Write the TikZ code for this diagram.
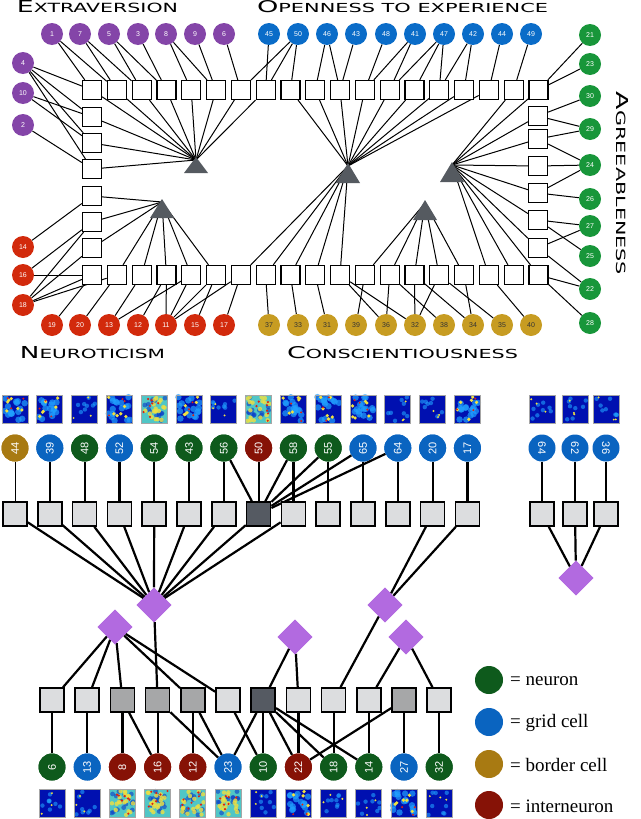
\documentclass[tikz,border=0pt]{standalone}
\usepackage{fontspec}
\usetikzlibrary{shapes.geometric}
\setmainfont{Liberation Serif}
\newfontfamily\tf{DejaVu Sans}
\newfontfamily\lf{Liberation Sans}
\definecolor{cpur}{HTML}{8445A8}
\definecolor{cblu}{HTML}{0A6CC8}
\definecolor{cgrn}{HTML}{18963A}
\definecolor{cred}{HTML}{D22A0C}
\definecolor{cgld}{HTML}{C79C22}
\definecolor{bgld}{HTML}{A87A12}
\definecolor{bblu}{HTML}{0A64C0}
\definecolor{bgrn}{HTML}{0E5A1C}
\definecolor{bred}{HTML}{861206}
\definecolor{trif}{HTML}{555A60}
\definecolor{sql}{HTML}{DCDDDF}
\definecolor{sqm}{HTML}{A6A7A8}
\definecolor{sqd}{HTML}{555A62}
\definecolor{dia}{HTML}{B26AE0}
\definecolor{hmb}{HTML}{0010B0}
\definecolor{hmc}{HTML}{20A0FF}
\definecolor{hmy}{HTML}{F0E040}
\definecolor{hmr}{HTML}{E02010}
\definecolor{hmg}{HTML}{70E0A0}
\newcommand\ttl[3]{\resizebox{#1pt}{#2pt}{\tf\fontsize{13}{13}\selectfont #3}}
\newcommand\hmap[3]{%
 \begin{scope}[shift={(#1,#2)}]
 \ifcase#3
  \fill[hmb] (-13,-14) rectangle (13,14);
  \foreach \k in {1,...,8}{\pgfmathsetmacro\ax{rnd*22-11}\pgfmathsetmacro\ay{rnd*24-12}\fill[hmc,opacity=.6] (\ax,\ay) circle (2.2);}
  \foreach \k in {1,...,3}{\pgfmathsetmacro\ax{rnd*22-11}\pgfmathsetmacro\ay{rnd*24-12}\fill[hmy] (\ax,\ay) circle (1.1);}
 \or
  \fill[hmb] (-13,-14) rectangle (13,14);
  \foreach \k in {1,...,16}{\pgfmathsetmacro\ax{rnd*22-11}\pgfmathsetmacro\ay{rnd*24-12}\fill[hmc,opacity=.7] (\ax,\ay) circle (3.2);}
  \foreach \k in {1,...,6}{\pgfmathsetmacro\ax{rnd*22-11}\pgfmathsetmacro\ay{rnd*24-12}\fill[hmy] (\ax,\ay) circle (1.8);}
  \foreach \k in {1,...,3}{\pgfmathsetmacro\ax{rnd*22-11}\pgfmathsetmacro\ay{rnd*24-12}\fill[hmr] (\ax,\ay) circle (1.1);}
 \or
  \fill[hmg!60!hmc] (-13,-14) rectangle (13,14);
  \foreach \k in {1,...,14}{\pgfmathsetmacro\ax{rnd*22-11}\pgfmathsetmacro\ay{rnd*24-12}\fill[hmb!70!hmc,opacity=.6] (\ax,\ay) circle (2.4);}
  \foreach \k in {1,...,18}{\pgfmathsetmacro\ax{rnd*22-11}\pgfmathsetmacro\ay{rnd*24-12}\fill[hmy,opacity=.8] (\ax,\ay) circle (2.2);}
  \foreach \k in {1,...,7}{\pgfmathsetmacro\ax{rnd*22-11}\pgfmathsetmacro\ay{rnd*24-12}\fill[hmr] (\ax,\ay) circle (1.2);}
 \fi
 \draw[gray!70,line width=0.8pt] (-13,-14) rectangle (13,14);
 \end{scope}}
\begin{document}
\begin{tikzpicture}[x=1pt,y=-1pt,
 sq/.style={draw=black,line width=1.2pt,fill=white,minimum size=19pt,inner sep=0pt},
 tc/.style={circle,minimum size=22pt,inner sep=0pt,font=\lf\fontsize{7}{7}\selectfont,text=white},
 bsq/.style={draw=black,line width=1.6pt,minimum size=24pt,inner sep=0pt},
 bel/.style={circle,minimum size=27pt,inner sep=0pt,font=\lf\fontsize{11}{11}\selectfont,text=white},
 dm/.style={diamond,fill=dia,minimum width=35pt,minimum height=35pt,inner sep=0pt},
 te/.style={line width=1pt},
 be/.style={line width=2.2pt},
 lg/.style={font=\fontsize{19}{19}\selectfont,anchor=west,inner sep=0pt}]
\useasboundingbox (0,0) rectangle (640,819);
\pgfmathsetseed{11}
% ---------- TOP SECTION ----------
\foreach \i in {0,...,18}{
 \node[sq] (T\i) at ({92+24.8*\i},90) {};
 \node[sq] (B\i) at ({92+24.8*\i},275) {};}
\foreach \i/\y in {1/117,2/143,3/169,4/196,5/222,6/248}{\node[sq] (L\i) at (92,\y) {};}
\foreach \i/\y in {1/116,2/139,3/166,4/193,5/220,6/248}{\node[sq] (R\i) at (538,\y) {};}
\foreach \n/\x in {1/52,7/80,5/109,3/138,8/166,9/195,6/224}{\node[tc,fill=cpur] (c\n) at (\x,34) {\n};}
\foreach \n/\x in {45/269,50/298,46/327,43/356,48/386,41/415,47/444,42/473,44/502,49/531}{\node[tc,fill=cblu] (c\n) at (\x,34) {\n};}
\foreach \n/\y in {4/63,10/93,2/125}{\node[tc,fill=cpur] (c\n) at (23,\y) {\n};}
\foreach \n/\y in {14/247,16/275,18/305}{\node[tc,fill=cred] (c\n) at (23,\y) {\n};}
\foreach \n/\x in {19/52,20/80,13/109,12/138,11/166,15/195,17/224}{\node[tc,fill=cred] (c\n) at (\x,325) {\n};}
\foreach \n/\x in {37/269,33/298,31/327,39/356,36/386,32/415,38/444,34/473,35/502,40/531}{\node[tc,fill=cgld,text=black!80] (c\n) at (\x,325) {\n};}
\foreach \n/\y in {21/35,23/64,30/96,29/129,24/165,26/199,27/226,25/256,22/289,28/323}{\node[tc,fill=cgrn] (c\n) at (590,\y) {\n};}
\coordinate (t1) at (196,160);
\coordinate (t2) at (162,202);
\coordinate (t3) at (348,166);
\coordinate (t4) at (452,165);
\coordinate (t5) at (425,203);
\foreach \s in {T0,T1,T2,T3,T4,T5,T6,T7,L1,L2,L3}{\draw[te] (t1) -- (\s);}
\foreach \s in {L4,L5,L6,B1,B2,B3,B4,B5}{\draw[te] (t2) -- (\s);}
\foreach \s in {T8,T9,T10,T11,T12,T13,T14,T15,T16,B6,B7,B8,B9,B10}{\draw[te] (t3) -- (\s);}
\foreach \s in {T17,T18,R1,R2,R3,R4,R5,R6,B16,B17,B18}{\draw[te] (t4) -- (\s);}
\foreach \s in {B11,B12,B13,B14,B15}{\draw[te] (t5) -- (\s);}
\foreach \a/\b in {c1/T0,c1/T1,c7/T1,c7/T2,c5/T2,c5/T3,c3/T3,c8/T4,c8/T5,c9/T5,c6/T6,c4/T0,c4/L1,c4/L2,c4/L3,c10/L1,c10/L2,c2/L3,
 c45/T7,c50/T6,c50/T7,c50/T8,c46/T9,c46/T10,c43/T10,c48/T11,c41/T11,c41/T12,c47/T12,c47/T13,c47/T14,c42/T14,c42/T15,c44/T16,c49/T17,
 c21/T18,c23/T18,c30/R1,c29/R1,c29/R2,c24/R2,c24/R3,c24/R4,c26/R4,c27/R5,c27/R6,c25/R5,c22/R6,c22/B18,c28/B18,
 c14/L4,c16/L5,c16/B0,c18/L5,c18/L6,c18/B0,c18/B1,c19/B0,c20/B1,c13/B2,c13/B4,c12/B3,c11/B3,c11/B4,c11/B5,c11/B6,c15/B5,c17/B6,
 c37/B7,c33/B8,c31/B9,c39/B11,c36/B10,c36/B12,c32/B10,c32/B13,c32/B14,c38/B12,c34/B13,c34/B15,c35/B14,c40/B16}{\draw[te] (\a) -- (\b);}
\foreach \i in {0,...,18}{\node[sq] at (T\i) {};\node[sq] at (B\i) {};}
\foreach \i in {1,...,6}{\node[sq] at (L\i) {};\node[sq] at (R\i) {};}
\fill[trif] (196,157) -- (184,173) -- (208,173) -- cycle;
\fill[trif] (162,199) -- (150,218) -- (174,218) -- cycle;
\fill[trif] (348,163) -- (336,183) -- (360,183) -- cycle;
\fill[trif] (452,162) -- (440,182) -- (464,182) -- cycle;
\fill[trif] (425,200) -- (413,220) -- (437,220) -- cycle;
\node[inner sep=0pt] (tE) at (97.5,6.5) {\ttl{161}{12}{E{\fontsize{10}{10}\selectfont XTRAVERSION}}};
\node[inner sep=0pt] (tO) at (402.5,6.5) {\ttl{291}{12}{O{\fontsize{10}{10}\selectfont PENNESS TO EXPERIENCE}}};
\node[inner sep=0pt] (tN) at (92.5,353) {\ttl{145}{12}{N{\fontsize{10}{10}\selectfont EUROTICISM}}};
\node[inner sep=0pt] (tC) at (402.5,353) {\ttl{231}{12}{C{\fontsize{10}{10}\selectfont ONSCIENTIOUSNESS}}};
\node[inner sep=0pt,rotate=-90] (tA) at (622,183.5) {\ttl{183}{12}{A{\fontsize{10}{10}\selectfont GREEABLENESS}}};
% ---------- BOTTOM SECTION ----------
\foreach \i/\n/\c/\h in {0/44/bgld/1,1/39/bblu/1,2/48/bgrn/0,3/52/bblu/1,4/54/bgrn/2,5/43/bgrn/1,6/56/bgrn/0,7/50/bred/2,8/58/bgrn/1,9/55/bgrn/1,10/65/bblu/1,11/64/bblu/0,12/20/bblu/0,13/17/bblu/1}{
 \pgfmathsetmacro\xx{15+34.8*\i}
 \hmap{\xx}{409}{\h}
 \node[bel,fill=\c] (u\i) at (\xx,448) {\rotatebox{90}{\n}};
 \node[bsq,fill=sql] (s\i) at (\xx,514) {};}
\foreach \i/\n/\x in {0/64/542,1/62/575,2/36/606}{
 \hmap{\x}{409}{0}
 \node[bel,fill=bblu] (v\i) at (\x,448) {\rotatebox{-90}{\n}};
 \node[bsq,fill=sql] (r\i) at (\x,514) {};}
\foreach \i/\n/\c/\h/\f in {1/6/bgrn/0/sql,2/13/bblu/0/sql,3/8/bred/2/sqm,4/16/bred/2/sqm,5/12/bred/2/sqm,6/23/bblu/2/sql,7/10/bgrn/0/sqd,8/22/bred/1/sql,9/18/bgrn/0/sql,10/14/bgrn/0/sql,11/27/bblu/1/sqm,12/32/bgrn/0/sql}{
 \pgfmathsetmacro\xx{52+35.2*(\i-1)}
 \hmap{\xx}{803}{\h}
 \node[bel,fill=\c] (w\i) at (\xx,767) {\rotatebox{90}{\n}};
 \node[bsq,fill=\f] (q\i) at (\xx,700) {};}
\node[dm] (D1) at (154,605) {};
\node[dm] (D2) at (385,605) {};
\node[dm] (D3) at (576,578) {};
\node[dm] (Da) at (115,627) {};
\node[dm] (Dc) at (295,637) {};
\node[dm] (Dd) at (406,637) {};
\draw[line width=1pt] (u0) -- (s0);
\foreach \i in {1,...,13}{\draw[be] (u\i) -- (s\i);}
\foreach \i in {0,1,2}{\draw[be] (v\i) -- (r\i); \draw[be] (r\i) -- (D3);}
\foreach \i in {6,8,9,10,11}{\draw[be] (u\i) -- (s7);}
\foreach \i in {0,...,8}{\draw[be] (s\i) -- (D1);}
\foreach \i in {12,13}{\draw[be] (s\i) -- (D2);}
\foreach \a/\b in {Da/q1,Da/q2,Da/q3,Da/q5,Da/q6,D1/q4,Dc/q7,Dc/q8,D2/q9,Dd/q10,Dd/q12}{\draw[be] (\a) -- (\b);}
\foreach \a/\b in {q1/w1,q2/w2,q3/w3,q3/w4,q4/w4,q4/w6,q5/w5,q5/w6,q6/w7,q7/w6,q7/w7,q7/w8,q7/w9,q7/w10,q8/w8,q9/w9,q10/w10,q11/w8,q11/w11,q12/w12}{\draw[be] (\a) -- (\b);}
\foreach \i in {0,...,13}{\node[bsq,fill=sql] at (s\i) {};}
\node[bsq,fill=sqd] at (s7) {};
\foreach \i in {0,1,2}{\node[bsq,fill=sql] at (r\i) {};}
\foreach \i/\f in {1/sql,2/sql,3/sqm,4/sqm,5/sqm,6/sql,7/sqd,8/sql,9/sql,10/sql,11/sqm,12/sql}{\node[bsq,fill=\f] at (q\i) {};}
\foreach \d in {D1,D2,D3,Da,Dc,Dd}{\node[dm] at (\d) {};}
\foreach \i/\n/\c in {1/6/bgrn,2/13/bblu,3/8/bred,4/16/bred,5/12/bred,6/23/bblu,7/10/bgrn,8/22/bred,9/18/bgrn,10/14/bgrn,11/27/bblu,12/32/bgrn}{\node[bel,fill=\c] at (w\i) {\rotatebox{90}{\n}};}
\foreach \i/\n/\c in {0/44/bgld,1/39/bblu,2/48/bgrn,3/52/bblu,4/54/bgrn,5/43/bgrn,6/56/bgrn,7/50/bred,8/58/bgrn,9/55/bgrn,10/65/bblu,11/64/bblu,12/20/bblu,13/17/bblu}{\node[bel,fill=\c] at (u\i) {\rotatebox{90}{\n}};}
\node[bel,fill=bgrn,minimum size=28pt] (k1) at (489,680) {};
\node[bel,fill=bblu,minimum size=28pt] (k2) at (489,722) {};
\node[bel,fill=bgld,minimum size=28pt] (k3) at (489,764) {};
\node[bel,fill=bred,minimum size=28pt] (k4) at (489,805) {};
\node[lg] (l1) at (510,681) {= neuron};
\node[lg] (l2) at (510,723) {= grid cell};
\node[lg] (l3) at (510,765) {= border cell};
\node[lg] (l4) at (510,806) {= interneuron};
\end{tikzpicture}
\end{document}
